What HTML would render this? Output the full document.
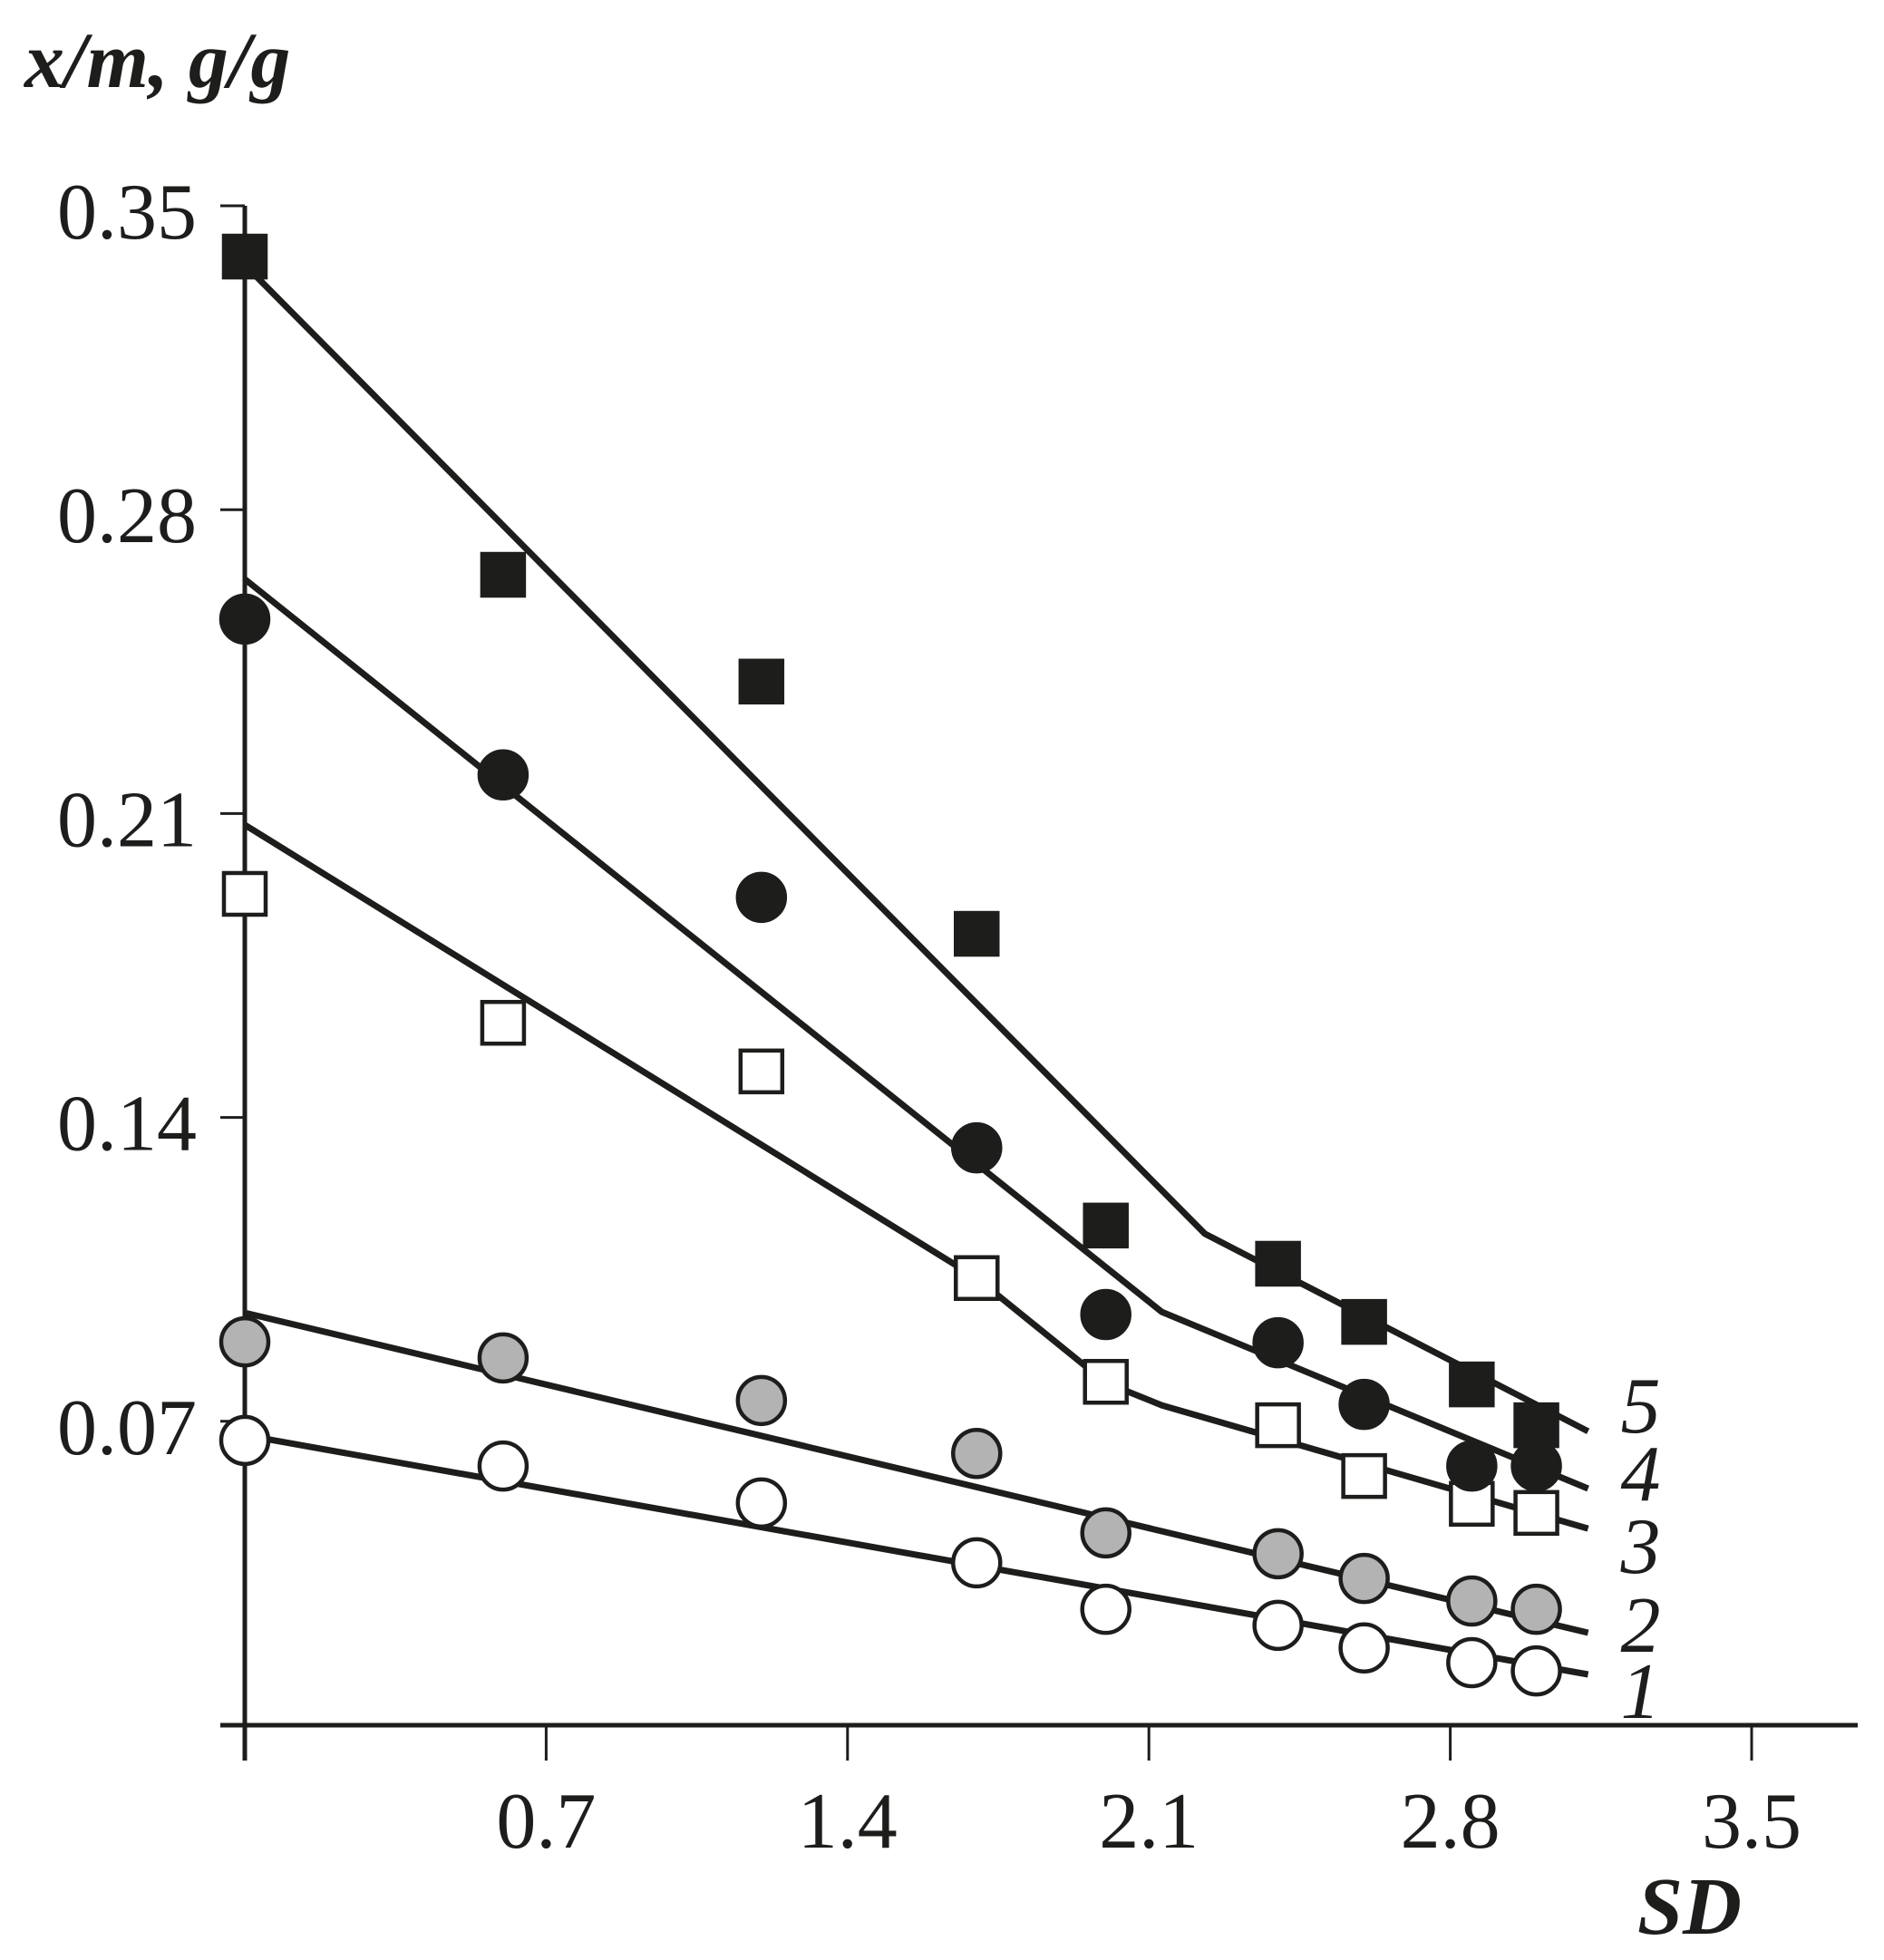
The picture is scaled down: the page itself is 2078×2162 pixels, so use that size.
<!DOCTYPE html>
<html><head><meta charset="utf-8"><style>
html,body{margin:0;padding:0;background:#fff}
svg{display:block}
text{font-family:"Liberation Serif",serif;fill:#1d1d1b}
</style></head><body>
<svg id="chart" width="2078" height="2162" viewBox="0 0 2078 2162" xmlns="http://www.w3.org/2000/svg">
<text x="27" y="96" font-size="88" font-weight="bold" font-style="italic">x/m, g/g</text>
<text x="1806" y="2133" font-size="90" font-weight="bold" font-style="italic">SD</text>
<g id="axes"></g><g id="lines"></g><g id="marks"></g><g id="labels"></g>
</svg>
<script>
const xValues = [0, 0.6, 1.2, 1.7, 2.0, 2.4, 2.6, 2.85, 3.0];
const series1 = [0.0656, 0.0597, 0.0512, 0.0374, 0.0267, 0.0230, 0.0178, 0.0144, 0.0125];
const series2 = [0.0883, 0.0846, 0.0748, 0.0626, 0.0443, 0.0395, 0.0338, 0.0286, 0.0267];
const series3 = [0.1915, 0.1618, 0.1506, 0.1030, 0.0791, 0.0691, 0.0574, 0.0510, 0.0489];
const series4 = [0.2548, 0.2189, 0.1907, 0.1330, 0.0946, 0.0881, 0.0739, 0.0597, 0.0597];
const series5 = [0.3383, 0.2650, 0.2404, 0.1823, 0.1151, 0.1063, 0.0929, 0.0785, 0.0691];
const fit1X = [0, 3.12], fit1Y = [0.0668, 0.0117];
const fit2X = [0, 3.12], fit2Y = [0.0950, 0.0213];
const fit3X = [0, 1.7, 2.0, 2.13, 3.12], fit3Y = [0.2074, 0.1030, 0.0789, 0.0737, 0.0453];
const fit4X = [0, 2.13, 3.12], fit4Y = [0.2640, 0.0952, 0.0545];
const fit5X = [0, 2.23, 3.12], fit5Y = [0.3364, 0.1132, 0.0677];
const xTicks = [0, 0.7, 1.4, 2.1, 2.8, 3.5];
const xTickLabels = ["", "0.7", "1.4", "2.1", "2.8", "3.5"];
const yTicks = [0.07, 0.14, 0.21, 0.28, 0.35];
const yTickLabels = ["0.07", "0.14", "0.21", "0.28", "0.35"];
const seriesLabels = ["1", "2", "3", "4", "5"];

const NS = "http://www.w3.org/2000/svg";
const X0 = 270, XS = 332.4 / 0.7, Y0 = 1903, YS = 335.2 / 0.07;
const LABEL_BASELINES = [1895, 1822, 1735, 1655, 1580];
function sx(v){ return X0 + v * XS; }
function sy(v){ return Y0 - v * YS; }
function mk(tag, attrs, parent){ const e = document.createElementNS(NS, tag); for (const k in attrs) e.setAttribute(k, attrs[k]); parent.appendChild(e); return e; }

const axes = document.getElementById('axes');
let a = mk('line', {x1:243, y1:Y0, x2:2049, y2:Y0, stroke:'#1d1d1b', 'stroke-width':5}, axes);


a = mk('line', {x1:X0, y1:sy(0.35), x2:X0, y2:1942, stroke:'#1d1d1b', 'stroke-width':5}, axes);


xTicks.forEach((t, i) => {
  const l = mk('line', {x1:sx(t), y1:Y0, x2:sx(t), y2:1942, stroke:'#1d1d1b', 'stroke-width':3}, axes);
  
  
  if (xTickLabels[i]) {
    const tx = mk('text', {x:sx(t), y:2038, 'font-size':88, 'text-anchor':'middle'}, axes);
    tx.textContent = xTickLabels[i];
    
    
  }
});
yTicks.forEach((t, i) => {
  const l = mk('line', {x1:243, y1:sy(t), x2:X0, y2:sy(t), stroke:'#1d1d1b', 'stroke-width':3}, axes);
  
  
  const tx = mk('text', {x:217, y:sy(t) + 36, 'font-size':88, 'text-anchor':'end'}, axes);
  tx.textContent = yTickLabels[i];
  
  
});

const lines = document.getElementById('lines');
[[fit1X,fit1Y],[fit2X,fit2Y],[fit3X,fit3Y],[fit4X,fit4Y],[fit5X,fit5Y]].forEach((f, i) => {
  const pts = f[0].map((x, j) => sx(x).toFixed(1) + ',' + sy(f[1][j]).toFixed(1)).join(' ');
  const p = mk('polyline', {points:pts, fill:'none', stroke:'#1d1d1b', 'stroke-width':7, 'stroke-linejoin':'round'}, lines);
  
  
  const lab = mk('text', {x:sx(f[0][f[0].length-1]) + 36, y:LABEL_BASELINES[i], 'font-size':88, 'font-style':'italic'}, document.getElementById('labels'));
  lab.textContent = seriesLabels[i];
  
  
});

const marks = document.getElementById('marks');
const styles = [
  {shape:'circle', fill:'#fff'},
  {shape:'circle', fill:'#b3b3b3'},
  {shape:'square', fill:'#fff'},
  {shape:'circle', fill:'#1d1d1b'},
  {shape:'square', fill:'#1d1d1b'}
];
[series1, series2, series3, series4, series5].forEach((s, i) => {
  s.forEach((v, j) => {
    const cx = sx(xValues[j]), cy = sy(v);
    let m;
    if (styles[i].shape === 'circle') {
      m = mk('circle', {cx:cx, cy:cy, r:26, fill:styles[i].fill, stroke:'#1d1d1b', 'stroke-width':4.5}, marks);
    } else {
      m = mk('rect', {x:cx - 23, y:cy - 23, width:46, height:46, fill:styles[i].fill, stroke:'#1d1d1b', 'stroke-width':4.5}, marks);
    }
    
    
  });
});
</script>
</body></html>
